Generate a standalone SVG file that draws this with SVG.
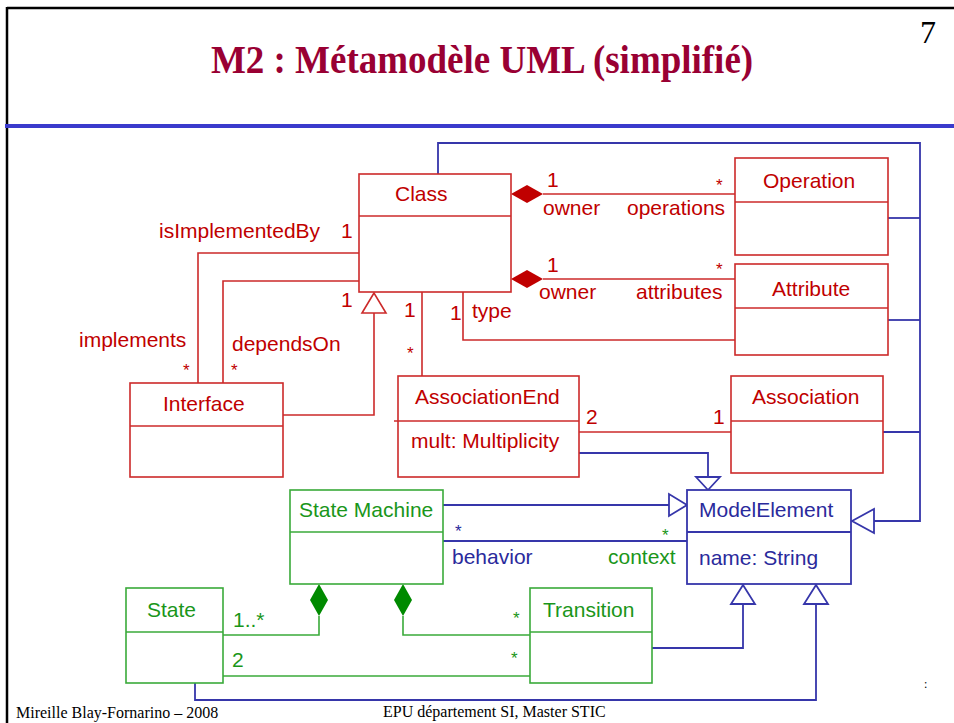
<svg xmlns="http://www.w3.org/2000/svg" width="954" height="723" viewBox="0 0 954 723">
<style>
text{font-family:"Liberation Sans",Arial,sans-serif;font-size:21px}
.r{fill:#c00000}.b{fill:#2a2a9c}.g{fill:#1a961a}
text.st{font-size:17px}
text.title{font-family:"Liberation Serif","Times New Roman",serif;font-size:37px;font-weight:bold;fill:#990033}
text.num{font-family:"Liberation Serif","Times New Roman",serif;font-size:32px;fill:#000}
text.foot{font-family:"Liberation Serif","Times New Roman",serif;font-size:16px;fill:#000}
text.tiny{font-family:"Liberation Serif","Times New Roman",serif;font-size:12px;fill:#000}
.rb{fill:#fff;stroke:#cc2a2a;stroke-width:1.6}
.bb{fill:#fff;stroke:#3636aa;stroke-width:1.8}
.gb{fill:#fff;stroke:#3aaa3a;stroke-width:1.6}
.rl{fill:none;stroke:#cc2a2a;stroke-width:1.6}
.bl{fill:none;stroke:#3636aa;stroke-width:1.8}
.gl{fill:none;stroke:#3aaa3a;stroke-width:1.6}
.rd{fill:#c00000}.gd{fill:#008a00}
.tri{fill:#fff;stroke:#3636aa;stroke-width:1.8}
.trir{fill:#fff;stroke:#cc2a2a;stroke-width:1.6}
</style>
<rect width="954" height="723" fill="#fff"/>
<g id="frame">
<line x1="7" y1="8" x2="954" y2="8" stroke="#000" stroke-width="2.5"/>
<line x1="7" y1="7" x2="7" y2="723" stroke="#000" stroke-width="2.5"/>
<line x1="5" y1="126" x2="954" y2="126" stroke="#3a3acc" stroke-width="4"/>
<text class="title" transform="translate(482,73) scale(1,1.1)" x="0" y="0" text-anchor="middle">M2 : Métamodèle UML (simplifié)</text>
<text class="num" x="920" y="43">7</text>
<text class="foot" x="16" y="718">Mireille Blay-Fornarino – 2008</text>
<text class="foot" x="383" y="717">EPU département SI, Master STIC</text>
<text class="tiny" x="924" y="688">:</text>
</g>
<g id="connectors">
<polygon class="rd" points="511,194 527,185 543,194 527,203"/>
<line class="rl" x1="543" y1="194" x2="735" y2="194"/>
<polygon class="rd" points="511,279 527,270 543,279 527,288"/>
<line class="rl" x1="543" y1="279" x2="735" y2="279"/>
<polyline class="rl" points="463,292 463,340 735,340"/>
<line class="rl" x1="422" y1="292" x2="422" y2="376"/>
<polyline class="rl" points="359,253 198,253 198,383"/>
<polyline class="rl" points="359,281 223,281 223,383"/>
<polyline class="rl" points="283,415 374,415 374,313"/>
<polygon class="trir" points="374,293 362,313 386,313"/>
<line class="rl" x1="579" y1="432" x2="731" y2="432"/>
<polyline class="bl" points="438,174 438,143 920,143 920,521 874,521"/>
<polygon class="tri" points="852,521 874,509 874,533"/>
<line class="bl" x1="888" y1="218" x2="920" y2="218"/>
<line class="bl" x1="888" y1="320" x2="920" y2="320"/>
<line class="bl" x1="883" y1="432" x2="920" y2="432"/>
<polyline class="bl" points="579,453 708,453 708,477"/>
<polygon class="tri" points="708,490 696,477 720,477"/>
<line class="bl" x1="443" y1="505" x2="669" y2="505"/>
<polygon class="tri" points="687,505 669,494 669,516"/>
<line class="bl" x1="443" y1="541" x2="687" y2="541"/>
<polyline class="bl" points="652,648 743,648 743,604"/>
<polygon class="tri" points="743,585 731,604 755,604"/>
<polyline class="bl" points="195,683 195,700 816,700 816,604"/>
<polygon class="tri" points="816,585 804,604 828,604"/>
<polygon class="gd" points="319,584 328,600 319,616 310,600"/>
<polyline class="gl" points="319,616 319,635 223,635"/>
<polygon class="gd" points="403,584 412,600 403,616 394,600"/>
<polyline class="gl" points="403,616 403,635 530,635"/>
<line class="gl" x1="223" y1="676" x2="530" y2="676"/>
<text class="r" x="547" y="187">1</text>
<text class="r" x="543" y="215">owner</text>
<text class="r" x="627" y="215">operations</text>
<text class="r st" x="716" y="191">*</text>
<text class="r" x="547" y="272">1</text>
<text class="r" x="539" y="299">owner</text>
<text class="r" x="636" y="299">attributes</text>
<text class="r st" x="716" y="275">*</text>
<text class="r" x="450" y="320">1</text>
<text class="r" x="472" y="318">type</text>
<text class="r" x="159" y="238">isImplementedBy</text>
<text class="r" x="341" y="238">1</text>
<text class="r" x="341" y="307">1</text>
<text class="r" x="404" y="317">1</text>
<text class="r st" x="407" y="359">*</text>
<text class="r" x="79" y="347">implements</text>
<text class="r st" x="183" y="376">*</text>
<text class="r" x="232" y="351">dependsOn</text>
<text class="r st" x="231" y="376">*</text>
<text class="r" x="586" y="424">2</text>
<text class="r" x="713" y="424">1</text>
<text class="b st" x="455" y="537">*</text>
<text class="b" x="452" y="564">behavior</text>
<text class="g st" x="662" y="541">*</text>
<text class="g" x="608" y="564">context</text>
<text class="g" x="233" y="627">1..*</text>
<text class="g" x="232" y="667">2</text>
<text class="g st" x="513" y="624">*</text>
<text class="g st" x="511" y="664">*</text>
</g>
<g id="Class">
<rect class="rb" x="359" y="174" width="152" height="118"/>
<line class="rl" x1="359" y1="216" x2="511" y2="216"/>
<text class="r" x="395" y="201">Class</text>
</g>
<g id="Operation">
<rect class="rb" x="735" y="158" width="153" height="97"/>
<line class="rl" x1="735" y1="202" x2="888" y2="202"/>
<text class="r" x="763" y="188">Operation</text>
</g>
<g id="Attribute">
<rect class="rb" x="735" y="264" width="153" height="91"/>
<line class="rl" x1="735" y1="308" x2="888" y2="308"/>
<text class="r" x="772" y="296">Attribute</text>
</g>
<g id="AssociationEnd">
<rect class="rb" x="398" y="376" width="181" height="101"/>
<line class="rl" x1="394" y1="421" x2="579" y2="421"/>
<text class="r" x="415" y="404">AssociationEnd</text>
<text class="r" x="411" y="448">mult: Multiplicity</text>
</g>
<g id="Association">
<rect class="rb" x="731" y="376" width="152" height="97"/>
<line class="rl" x1="731" y1="421" x2="883" y2="421"/>
<text class="r" x="752" y="404">Association</text>
</g>
<g id="Interface">
<rect class="rb" x="130" y="383" width="153" height="94"/>
<line class="rl" x1="130" y1="426" x2="283" y2="426"/>
<text class="r" x="163" y="411">Interface</text>
</g>
<g id="StateMachine">
<rect class="gb" x="290" y="490" width="153" height="94"/>
<line class="gl" x1="290" y1="532" x2="443" y2="532"/>
<text class="g" x="299" y="517">State Machine</text>
</g>
<g id="ModelElement">
<rect class="bb" x="687" y="490" width="164" height="94"/>
<line class="bl" x1="687" y1="532" x2="851" y2="532"/>
<text class="b" x="699" y="517">ModelElement</text>
<text class="b" x="699" y="565">name: String</text>
</g>
<g id="State">
<rect class="gb" x="126" y="588" width="97" height="95"/>
<line class="gl" x1="126" y1="632" x2="223" y2="632"/>
<text class="g" x="147" y="617">State</text>
</g>
<g id="Transition">
<rect class="gb" x="530" y="588" width="122" height="95"/>
<line class="gl" x1="530" y1="632" x2="652" y2="632"/>
<text class="g" x="543" y="617">Transition</text>
</g>
</svg>
